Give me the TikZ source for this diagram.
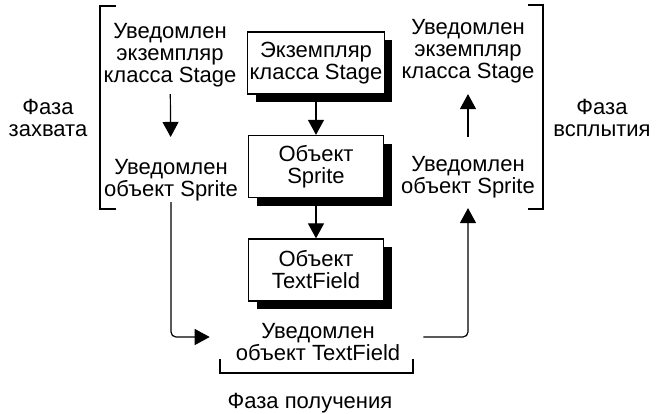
\documentclass[tikz,border=0pt]{standalone}
\usepackage{fontspec}
\setmainfont{Liberation Sans}
\usetikzlibrary{positioning, arrows.meta, shadows}
\tikzset{
every node/.style={font=\fontsize{22}{22}\selectfont, align=center, inner sep=1pt}, % all labels share one size
obj/.style={draw, line width=1.3pt, fill=white, inner sep=2pt,
  minimum width=135pt, minimum height=62pt,
  drop shadow={shadow xshift=8pt, shadow yshift=-8pt, fill=black, opacity=1}}, % boxed objects
flow/.style={-{Triangle[length=15pt,width=16pt]}, line width=1.2pt}, % event flow arrows
brace/.style={line width=1.3pt}, % phase brackets
node distance=103.5pt,
}

\begin{document}
\begin{tikzpicture}[x=1pt, y=-1pt]
        \useasboundingbox (0,0) rectangle (659,413);

        % display list
        \node[obj] (stage) at (316,63) {Экземпляр\\класса Stage};
        \node[obj, below of=stage] (sprite) {Объект\\Sprite};
        \node[obj, below of=sprite] (field) {Объект\\TextField};

        % capture side
        \node (capStage) at (170,55) {Уведомлен\\экземпляр\\класса Stage};
        \node (capSprite) at (171,180) {Уведомлен\\объект Sprite};
        \node (capPhase) at (48,118) {Фаза\\захвата};

        % bubbling side
        \node (bubStage) at (468,51) {Уведомлен\\экземпляр\\класса Stage};
        \node (bubSprite) at (468,177) {Уведомлен\\объект Sprite};
        \node (bubPhase) at (602,118) {Фаза\\всплытия};

        % target
        \node (target) at (318,342) {Уведомлен\\объект TextField};
        \node (tgtPhase) at (310,403) {Фаза получения};

        \draw[flow] (stage) -- (sprite);
        \draw[flow] (sprite) -- (field);
        \draw[flow, shorten <=6pt, shorten >=21pt] (capStage) -- (capSprite);
        \draw[flow, shorten <=18pt, shorten >=10pt] (bubSprite) -- (bubStage);
        \draw[flow, rounded corners=5pt, shorten >=25pt] (capSprite) |- ([yshift=5pt]target.west);
        \draw[flow, rounded corners=5pt, shorten <=22pt, shorten >=9pt] ([yshift=5pt]target.east) -| (bubSprite);

        % phase brackets
        \draw[brace] (116,6) -- (100,6) -- (100,209) -- (116,209);
        \draw[brace] (528,5) -- (543,5) -- (543,209) -- (528,209);
        \draw[brace] (220,359) -- (220,373) -- (413,373) -- (413,359);
      \end{tikzpicture}
\end{document}
